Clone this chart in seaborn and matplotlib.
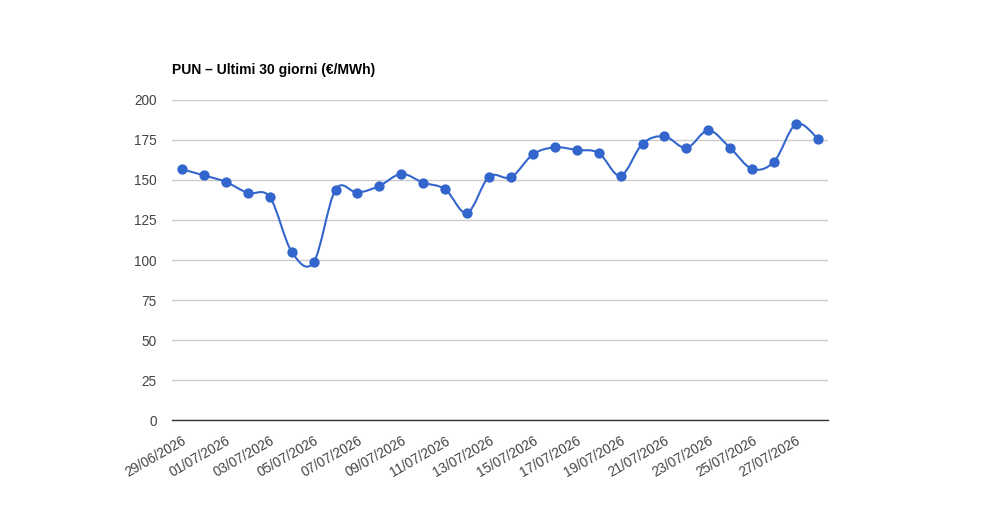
import seaborn as sns
import pandas as pd
import matplotlib.pyplot as plt
from matplotlib.path import Path
from matplotlib.patches import PathPatch

dates = ["29/06/2026", "30/06/2026", "01/07/2026", "02/07/2026", "03/07/2026",
         "04/07/2026", "05/07/2026", "06/07/2026", "07/07/2026", "08/07/2026",
         "09/07/2026", "10/07/2026", "11/07/2026", "12/07/2026", "13/07/2026",
         "14/07/2026", "15/07/2026", "16/07/2026", "17/07/2026", "18/07/2026",
         "19/07/2026", "20/07/2026", "21/07/2026", "22/07/2026", "23/07/2026",
         "24/07/2026", "25/07/2026", "26/07/2026", "27/07/2026", "28/07/2026"]
pun = [156.7, 152.9, 148.8, 141.9, 139.4, 105.2, 98.5, 144.0, 142.1, 146.3,
       153.8, 148.3, 144.2, 129.4, 152.1, 151.7, 166.0, 170.4, 168.8, 166.9,
       152.7, 172.7, 177.3, 170.0, 181.0, 170.0, 156.9, 161.5, 185.0, 175.8]
yticks = [0, 25, 50, 75, 100, 125, 150, 175, 200]

BLUE = "#3366cc"

sns.set_style("white")
plt.rcParams['font.family'] = ['Liberation Sans', 'DejaVu Sans']


def smooth_path(xs, ys, k=1/6):
    # catmull-rom style bezier through the points
    verts = [(xs[0], ys[0])]
    codes = [Path.MOVETO]
    n = len(xs)
    for i in range(n - 1):
        x0, y0 = (xs[i - 1], ys[i - 1]) if i > 0 else (xs[i], ys[i])
        x1, y1 = xs[i], ys[i]
        x2, y2 = xs[i + 1], ys[i + 1]
        x3, y3 = (xs[i + 2], ys[i + 2]) if i + 2 < n else (x2, y2)
        verts += [(x1 + (x2 - x0) * k, y1 + (y2 - y0) * k),
                  (x2 - (x3 - x1) * k, y2 - (y3 - y1) * k),
                  (x2, y2)]
        codes += [Path.CURVE4] * 3
    return Path(verts, codes)


def main():
    data = pd.DataFrame({"idx": range(len(dates)), "date": dates, "pun": pun})

    fig = plt.figure(figsize=(10, 5.2), dpi=100)
    ax = fig.add_axes([0.172, 0.1923, 0.656, 0.6154])

    patch = PathPatch(smooth_path(list(data["idx"]), list(data["pun"])),
                      fill=False, edgecolor=BLUE, lw=1.5, zorder=3)
    ax.add_patch(patch)
    sns.scatterplot(data=data, x="idx", y="pun", color=BLUE, s=55,
                    edgecolor=BLUE, linewidth=0, zorder=4, ax=ax)

    ax.set_xlim(-0.456, len(dates) - 1 + 0.456)
    ax.set_ylim(0, 200)
    ax.set_yticks(yticks)
    ax.set_yticklabels([str(v) for v in yticks])
    ax.set_xticks(data["idx"][::2])
    ax.set_xticklabels(data["date"][::2], rotation=30, ha="right",
                       rotation_mode="anchor")
    ax.tick_params(axis="both", length=0, labelsize=9.8, colors="#444444")
    ax.tick_params(axis="x", pad=10)
    ax.tick_params(axis="y", pad=11)

    ax.grid(axis="y", color="#cccccc", lw=1)
    ax.set_axisbelow(True)
    for s in ["top", "right", "left"]:
        ax.spines[s].set_visible(False)
    ax.spines["bottom"].set_color("#333333")
    ax.spines["bottom"].set_linewidth(1)
    ax.set_xlabel("")
    ax.set_ylabel("")

    fig.text(0.172, 1 - 74 / 520, "PUN – Ultimi 30 giorni (€/MWh)",
             fontsize=10, fontweight="bold", color="#000000",
             ha="left", va="baseline")

    fig.savefig("out.png", dpi=100)


if __name__ == "__main__":
    main()
